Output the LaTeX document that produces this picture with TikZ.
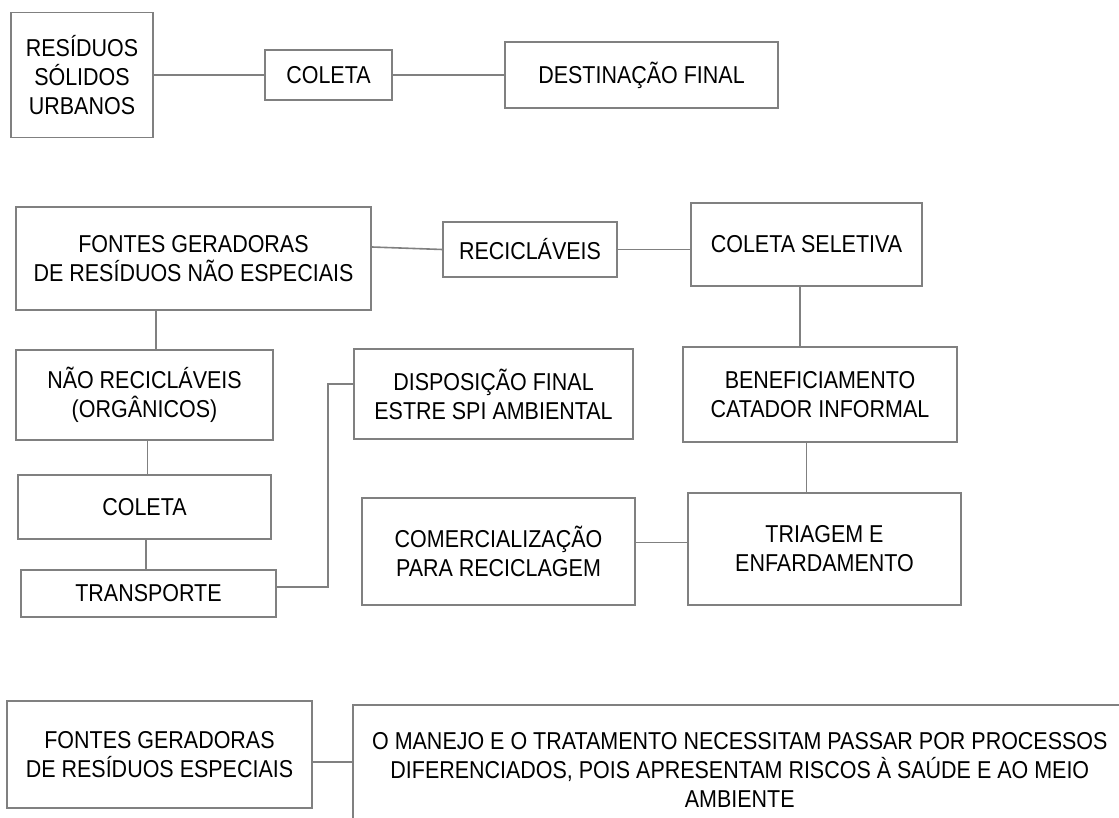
\documentclass[tikz,border=0pt]{standalone}
\usepackage{fontspec}
\setmainfont{Liberation Sans}[FakeStretch=0.88]
\usetikzlibrary{calc}

\begin{document}
\begin{tikzpicture}[x=1pt,y=-1pt,
  caixa/.style={draw=black!50, line width=1.6pt, align=center, inner sep=0pt,
    font=\fontsize{24.4pt}{29pt}\selectfont},
  liga/.style={draw=black!50, line width=1.6pt}]
\useasboundingbox (0,0) rectangle (1119,818);

% fluxo simples
\node[caixa, minimum width=142, minimum height=125] (rsu) at (82,75) {RESÍDUOS\\SÓLIDOS\\URBANOS};
\node[caixa, minimum width=127, minimum height=50] (coleta) at (328.5,75) {COLETA};
\node[caixa, minimum width=273, minimum height=66] (destino) at (641.5,75) {DESTINAÇÃO FINAL};
\draw[liga] (rsu.east) -- (coleta.west);
\draw[liga] (coleta.east) -- (destino.west);

% residuos nao especiais
\node[caixa, minimum width=355, minimum height=103] (fontes) at (193.5,258.5) {FONTES GERADORAS\\DE RESÍDUOS NÃO ESPECIAIS};
\node[caixa, minimum width=174, minimum height=55] (recic) at (530,249.5) {RECICLÁVEIS};
\node[caixa, minimum width=231, minimum height=83] (seletiva) at (806.5,244.5) {COLETA SELETIVA};
\node[caixa, minimum width=257, minimum height=90] (naorecic) at (144.5,395) {NÃO RECICLÁVEIS\\(ORGÂNICOS)};
\node[caixa, minimum width=253, minimum height=64] (coleta2) at (144.5,507) {COLETA};
\node[caixa, minimum width=255, minimum height=47] (transp) at (148.5,593.5) {TRANSPORTE};
\node[caixa, minimum width=279, minimum height=90] (dispos) at (493.5,394) {DISPOSIÇÃO FINAL\\ESTRE SPI AMBIENTAL};
\node[caixa, minimum width=274, minimum height=95] (benef) at (820,394.5) {BENEFICIAMENTO\\CATADOR INFORMAL};
\node[caixa, minimum width=273, minimum height=112] (triagem) at (824.5,549) {TRIAGEM E\\ENFARDAMENTO};
\node[caixa, minimum width=273, minimum height=107] (comerc) at (498.5,551.5) {COMERCIALIZAÇÃO\\PARA RECICLAGEM};

\draw[liga] ([yshift=11.5pt]fontes.east) -- (recic.west);
\draw[liga] (recic.east) -- (recic.east -| seletiva.west);
\draw[liga] ([xshift=11.5pt]naorecic.north) -- ([xshift=11.5pt]naorecic.north |- fontes.south);
\draw[liga] ([xshift=3pt]naorecic.south) -- ([xshift=3pt]naorecic.south |- coleta2.north);
\draw[liga] ([xshift=1.5pt]coleta2.south) -- ([xshift=1.5pt]coleta2.south |- transp.north);
\draw[liga] ([yshift=6.5pt]transp.east) -- ++(51,0) |- ([yshift=10pt]dispos.west);
\draw[liga] ([xshift=-6.5pt]seletiva.south) -- ([xshift=-6.5pt]seletiva.south |- benef.north);
\draw[liga] ([xshift=-13.5pt]benef.south) -- ([xshift=-13.5pt]benef.south |- triagem.north);
\draw[liga] ([yshift=9pt]comerc.east) -- ([yshift=9pt]comerc.east -| triagem.west);

% residuos especiais
\node[caixa, minimum width=305, minimum height=107] (especiais) at (159.5,754.5) {FONTES GERADORAS\\DE RESÍDUOS ESPECIAIS};
\begin{scope}
  \clip (0,0) rectangle (1119,818);
  \node[caixa, anchor=north west, minimum width=774, inner ysep=28pt] (manejo) at (352,704)
    {O MANEJO E O TRATAMENTO NECESSITAM PASSAR POR PROCESSOS\\DIFERENCIADOS, POIS APRESENTAM RISCOS À SAÚDE E AO MEIO\\AMBIENTE};
\end{scope}
\draw[liga] ([yshift=-7.5pt]especiais.east) -- ([yshift=-7.5pt]especiais.east -| manejo.west);

\end{tikzpicture}
\end{document}
